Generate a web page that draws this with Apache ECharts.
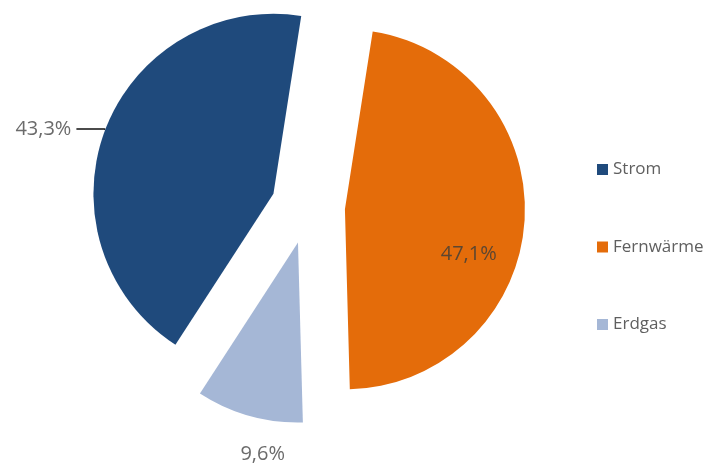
<!DOCTYPE html>
<html>
<head>
<meta charset="utf-8">
<script src="https://cdn.jsdelivr.net/npm/echarts@6/dist/echarts.min.js"></script>
<style>
html,body{margin:0;padding:0;background:#fff;}
#chart{width:713px;height:468px;}
</style>
</head>
<body>
<div id="chart"></div>
<script>
const categories = ['Strom', 'Fernwärme', 'Erdgas'];
const shares = [43.3, 47.1, 9.6];
const colors = ['#1f4a7c', '#e46c0a', '#a5b7d6'];

const fmt = p => p.value.toFixed(1).replace('.', ',') + '%';

const labelCfg = [
  { label: { position: 'outside', color: '#6b6b6b', fontSize: 20, padding: [0, 0, 22, 0] },
    labelLine: { show: true, length: 1, length2: 28, lineStyle: { color: '#111', width: 1.5 } } },
  { label: { position: 'inside', color: '#5c4631', fontSize: 20 },
    labelLine: { show: false } },
  { label: { position: 'outside', color: '#6b6b6b', fontSize: 20 },
    labelLine: { show: false, length: 12, length2: 0 } }
];
const labelShift = [[0, 0], [31, 39], [44, 27]];

const chart = echarts.init(document.getElementById('chart'), null, { renderer: 'canvas' });
chart.setOption({
  animation: false,
  backgroundColor: '#fff',
  textStyle: { fontFamily: 'Open Sans' },
  legend: {
    orient: 'vertical',
    left: 592,
    top: 156,
    itemWidth: 11,
    itemHeight: 11,
    itemGap: 60.5,
    icon: 'rect',
    selectedMode: false,
    textStyle: { color: '#5f5f5f', fontSize: 17, fontFamily: 'Open Sans' },
    data: categories.map((n, i) => ({ name: n, itemStyle: { color: colors[i] } }))
  },
  series: [{
    type: 'pie',
    center: [308, 207],
    radius: 180,
    startAngle: 237,
    clockwise: true,
    selectedMode: 'multiple',
    selectedOffset: 37,
    avoidLabelOverlap: false,
    label: { formatter: fmt, fontFamily: 'Open Sans' },
    emphasis: { disabled: true },
    labelLayout: function (p) {
      const s = labelShift[p.dataIndex];
      if (s[0] || s[1]) return { dx: s[0], dy: s[1] };
      return {};
    },
    data: categories.map((n, i) => Object.assign({
      name: n,
      value: shares[i],
      selected: true,
      itemStyle: { color: colors[i] }
    }, labelCfg[i]))
  }]
});
</script>
</body>
</html>
